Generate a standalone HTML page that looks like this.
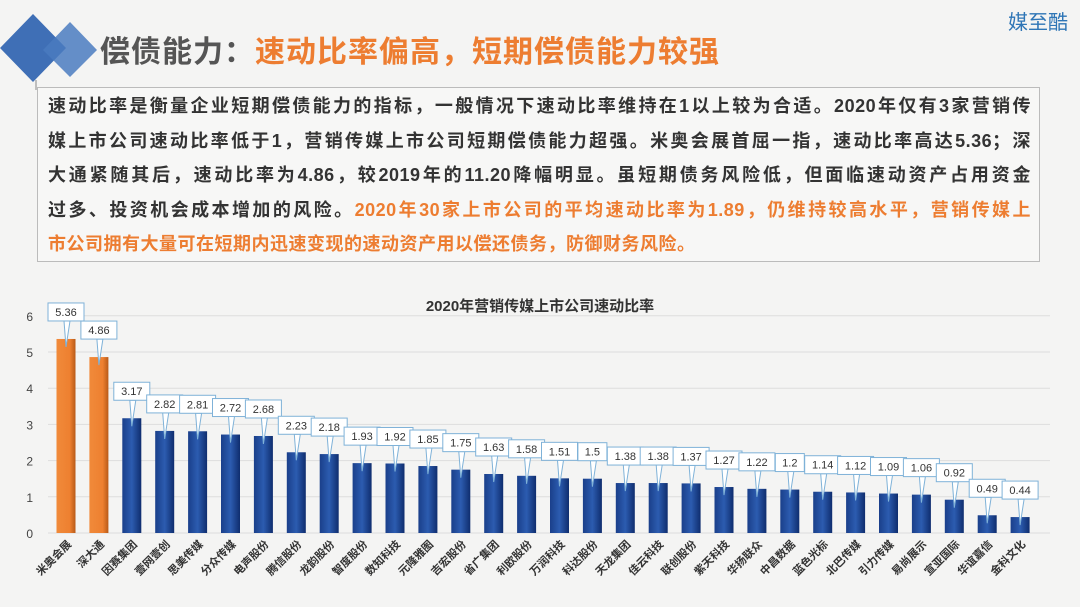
<!DOCTYPE html>
<html><head><meta charset="utf-8"><style>
body{margin:0;width:1080px;height:607px;background:#f4f4f3;font-family:"Liberation Sans","Noto Sans CJK SC",sans-serif;overflow:hidden;position:relative}
.t{position:absolute;left:100px;top:27px;font-size:30px;font-weight:bold;color:#555;letter-spacing:1px}
.t span{color:#ed7d31}
.logo{position:absolute;right:12px;top:6px;font-size:20px;color:#2e75b6}
.box{position:absolute;left:37px;top:87px;width:1003px;height:175px;border:1px solid #bbb;box-sizing:border-box;background:#f7f7f6;padding:1px 8px 0 10px}
.box div{font-size:18px;letter-spacing:0.5px;font-weight:bold;line-height:34.5px;height:34.5px;color:#333;white-space:nowrap;text-align:justify;text-align-last:justify}
.box div.l{text-align-last:left}
.box span{color:#ed7d31}
</style></head><body>
<svg style="position:absolute;left:0;top:0" width="120" height="90">
<polygon points="33,14 66,48 33,82 0,48" fill="#3f6fb6"/>
<polygon points="70,22 97,50 70,77 43,50" fill="#4a7bc0" opacity=".85"/>
<line x1="36" y1="80" x2="36" y2="90" stroke="#888"/>
</svg>
<div class="t">偿债能力：<span>速动比率偏高，短期偿债能力较强</span></div>
<div class="logo">媒至酷</div>
<div class="box">
<div>速动比率是衡量企业短期偿债能力的指标，一般情况下速动比率维持在1以上较为合适。2020年仅有3家营销传</div>
<div>媒上市公司速动比率低于1，营销传媒上市公司短期偿债能力超强。米奥会展首屈一指，速动比率高达5.36；深</div>
<div>大通紧随其后，速动比率为4.86，较2019年的11.20降幅明显。虽短期债务风险低，但面临速动资产占用资金</div>
<div>过多、投资机会成本增加的风险。<span>2020年30家上市公司的平均速动比率为1.89，仍维持较高水平，营销传媒上</span></div>
<div class="l"><span>市公司拥有大量可在短期内迅速变现的速动资产用以偿还债务，防御财务风险。</span></div>
</div>
<svg id="c" style="position:absolute;left:0;top:0" width="1080" height="607"></svg>
<script>
var v=[5.36,4.86,3.17,2.82,2.81,2.72,2.68,2.23,2.18,1.93,1.92,1.85,1.75,1.63,1.58,1.51,1.5,1.38,1.38,1.37,1.27,1.22,1.2,1.14,1.12,1.09,1.06,0.92,0.49,0.44];
var n=["米奥会展","深大通","因赛集团","壹网壹创","思美传媒","分众传媒","电声股份","腾信股份","龙韵股份","智度股份","数知科技","元隆雅图","吉宏股份","省广集团","利欧股份","万润科技","科达股份","天龙集团","佳云科技","联创股份","紫天科技","华扬联众","中昌数据","蓝色光标","北巴传媒","引力传媒","易尚展示","宣亚国际","华谊嘉信","金科文化"];
var s='<defs><linearGradient id="b" x1="0" x2="1"><stop offset="0" stop-color="#1a3f8a"/><stop offset=".5" stop-color="#2c5cb0"/><stop offset="1" stop-color="#0f2d6e"/></linearGradient><linearGradient id="o" x1="0" x2="1"><stop offset="0" stop-color="#f08a3a"/><stop offset=".7" stop-color="#ee8030"/><stop offset="1" stop-color="#b85a18"/></linearGradient></defs>';
s+='<text x="540" y="311" text-anchor="middle" font-size="15" font-weight="bold" fill="#333">2020年营销传媒上市公司速动比率</text>';
var z=533,u=36.2;
for(var i=0;i<=6;i++){var y=z-i*u;s+='<line x1="48" x2="1050" y1="'+y+'" y2="'+y+'" stroke="#ddd"/><text x="33" y="'+(y+5)+'" text-anchor="end" font-size="12" fill="#444">'+i+'</text>';}
for(var i=0;i<30;i++){var cx=66+i*32.9,h=v[i]*u,t=z-h;
s+='<rect x="'+(cx-9.5)+'" y="'+t+'" width="19" height="'+h+'" fill="url(#'+(i<2?'o':'b')+')"/>';
var lb=String(v[i]),w=lb.length*7+8,by=t-36;
s+='<polygon points="'+(cx-2)+','+(by+18)+' '+(cx+4)+','+(by+18)+' '+cx+','+(t+8)+'" fill="#fff" stroke="#7fb2d8"/>';
s+='<rect x="'+(cx-w/2)+'" y="'+by+'" width="'+w+'" height="18" fill="#fff" stroke="#7fb2d8"/>';
s+='<text x="'+cx+'" y="'+(by+13)+'" text-anchor="middle" font-size="11" fill="#333">'+lb+'</text>';
s+='<text transform="translate('+(cx+6)+',545) rotate(-45)" text-anchor="end" font-size="11" font-weight="bold" fill="#333">'+n[i]+'</text>';}
document.getElementById('c').innerHTML=s;
</script>
</body></html>
